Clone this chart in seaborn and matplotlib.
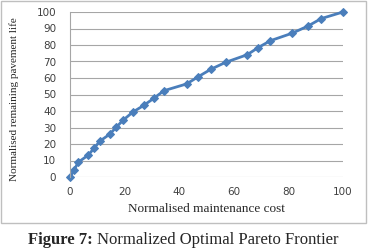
import matplotlib
matplotlib.use("Agg")
import matplotlib.pyplot as plt
import seaborn as sns
import pandas as pd
from matplotlib.patches import Rectangle

cost = [0, 1.5, 3, 6.7, 8.8, 11, 14.6, 17, 19.5, 22.9, 27, 30.7, 34.4,
        42.7, 47, 51.6, 57, 64.9, 68.9, 73.4, 81.3, 87.2, 92, 100]
life = [0, 4.2, 8.9, 13.3, 17.4, 21.8, 26, 30.3, 34.5, 39.2, 43.4, 47.7, 52.3,
        56.4, 60.8, 65.3, 69.5, 74.1, 78.4, 82.6, 87.1, 91.5, 96, 100]
ticks = [0, 20, 40, 60, 80, 100]
yticks = list(range(0, 101, 10))

df = pd.DataFrame({"cost": cost, "life": life})

sns.set_style("white")
W, H = 369, 248
fig = plt.figure(figsize=(W / 100, H / 100), dpi=100)
ax = fig.add_axes([70 / W, 1 - 177 / H, (343 - 70) / W, (177 - 12) / H])

sns.lineplot(data=df, x="cost", y="life", ax=ax, color="#4a7ebb",
             linewidth=2.0, marker="D", markersize=4.5,
             markeredgecolor="#4a7ebb", sort=False, clip_on=False)

ax.set_xlim(0, 100)
ax.set_ylim(0, 100)
ax.set_xticks(ticks)
ax.set_yticks(yticks)
ax.set_xticklabels([str(t) for t in ticks], fontsize=7.5, family="DejaVu Sans", color="#404040")
ax.set_yticklabels([str(t) for t in yticks], fontsize=7.5, family="DejaVu Sans", color="#404040")
ax.tick_params(axis="both", length=0)
ax.tick_params(axis="x", pad=7)
ax.tick_params(axis="y", pad=10)
ax.grid(axis="y", color="#a6a6a6", linewidth=0.8)
ax.set_axisbelow(True)
for s in ["top", "right", "bottom"]:
    ax.spines[s].set_visible(False)
ax.spines["left"].set_color("#a6a6a6")
ax.spines["left"].set_linewidth(0.8)

ax.set_xlabel("Normalised maintenance cost", fontsize=9.5, family="Liberation Serif", color="#262626")
ax.set_ylabel("Normalised remaining pavement life", fontsize=8, family="Liberation Serif", color="#262626")
ax.xaxis.set_label_coords(0.5, -0.16)
ax.yaxis.set_label_coords(-0.185, 0.47)

# outer chart frame
fig.patches.append(Rectangle((1 / W, 1 - 222.5 / H), 364.5 / W, 221.5 / H,
                             transform=fig.transFigure, fill=False,
                             edgecolor="#bfbfbf", linewidth=1.0))

# caption: bold label followed by regular text, centred as a whole
fs = 12
base_y = 1 - 244.5 / H
t1 = fig.text(0, base_y, "Figure 7:", fontsize=fs, fontweight="bold",
              family="Liberation Serif", va="baseline", ha="left")
t2 = fig.text(0, base_y, "Normalized Optimal Pareto Frontier", fontsize=fs,
              family="Liberation Serif", va="baseline", ha="left")
fig.canvas.draw()
w1 = t1.get_window_extent().width
w2 = t2.get_window_extent().width
gap = 4
x0 = 183.5 - (w1 + gap + w2) / 2
t1.set_x(x0 / W)
t2.set_x((x0 + w1 + gap) / W)

fig.savefig("out.png", dpi=100)
